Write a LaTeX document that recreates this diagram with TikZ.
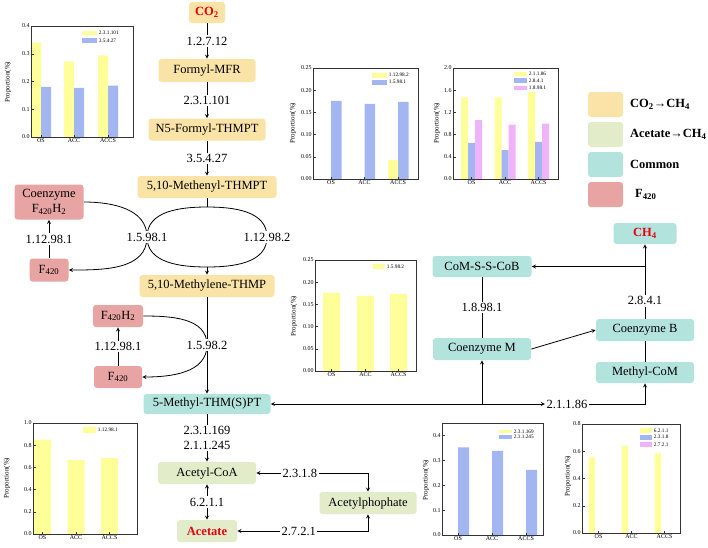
\documentclass[tikz,border=0pt]{standalone}
\usepackage{fontspec}
\setmainfont{Liberation Serif}
\usepackage{xcolor}
\usetikzlibrary{positioning}

\definecolor{boxco}{HTML}{FAE3A6}
\definecolor{boxac}{HTML}{E2ECC8}
\definecolor{boxcm}{HTML}{B2E4DD}
\definecolor{boxfz}{HTML}{E8A3A3}
\definecolor{baryel}{HTML}{FFFF99}
\definecolor{barblu}{HTML}{A3B6F2}
\definecolor{barpnk}{HTML}{EFB3FA}
\definecolor{txtred}{HTML}{E60012}
\newcommand{\sbs}[1]{\textsubscript{#1}}

\begin{document}
\begin{tikzpicture}[x=1pt,y=-1pt,line width=0.8pt,
    every node/.style={font=\fontsize{12.5}{15.5}\selectfont},
    box/.style={rounded corners=3pt,inner sep=0pt,minimum height=22pt},
    lbl/.style={fill=white,inner sep=1.5pt},
    legtxt/.style={font=\fontsize{12.5}{14}\selectfont\bfseries},
    chartline/.style={draw=black!80,line width=0.5pt},
    ticklab/.style={font=\fontsize{6}{7}\selectfont,inner sep=1pt},
    barkey/.style={font=\fontsize{5.3}{6}\selectfont,anchor=west,inner sep=0.5pt},
    ylab/.style={font=\fontsize{7}{8}\selectfont,rotate=90}]
  \useasboundingbox (0,0) rectangle (708,547);

  % CO2 branch
  \node[box,fill=boxco,minimum width=36pt,minimum height=21pt] (co2) at (207,12.5) {\textcolor{txtred}{\bfseries CO\sbs{2}}};
  \node[box,fill=boxco,minimum width=97pt,minimum height=23pt] (fmfr) at (207,70.5) {Formyl-MFR};
  \node[box,fill=boxco,minimum width=117pt] (n5f) at (207,129.5) {N5-Formyl-THMPT};
  \node[box,fill=boxco,minimum width=139pt] (meth) at (207,187) {5,10-Methenyl-THMPT};
  \node[box,fill=boxco,minimum width=135pt] (mlene) at (207,286) {5,10-Methylene-THMP};
  % F420
  \node[box,fill=boxfz,minimum width=69pt,minimum height=35pt,align=center] (cof) at (49,202) {Coenzyme\\F\sbs{420}H\sbs{2}};
  \node[box,fill=boxfz,minimum width=39pt,minimum height=23pt] (f420a) at (49,270) {F\sbs{420}};
  \node[box,fill=boxfz,minimum width=50pt] (f420h2) at (118,316) {F\sbs{420}H\sbs{2}};
  \node[box,fill=boxfz,minimum width=48pt] (f420b) at (118,377) {F\sbs{420}};
  % common
  \node[box,fill=boxcm,minimum width=127pt,minimum height=20pt] (mthm) at (207,404) {5-Methyl-THM(S)PT};
  \node[box,fill=boxcm,minimum width=63pt,minimum height=21pt] (ch4) at (645,233.5) {\textcolor{txtred}{\bfseries CH\sbs{4}}};
  \node[box,fill=boxcm,minimum width=99pt,minimum height=21pt] (cmsb) at (482,266.5) {CoM-S-S-CoB};
  \node[box,fill=boxcm,minimum width=98pt] (comm) at (482,349) {Coenzyme M};
  \node[box,fill=boxcm,minimum width=98pt] (cob) at (645,330) {Coenzyme B};
  \node[box,fill=boxcm,minimum width=98pt,minimum height=21pt] (mcom) at (645,372.5) {Methyl-CoM};
  % acetate branch
  \node[box,fill=boxac,minimum width=98pt] (acoa) at (207,473) {Acetyl-CoA};
  \node[box,fill=boxac,minimum width=60pt] (acet) at (207,531) {\textcolor{txtred}{\bfseries Acetate}};
  \node[box,fill=boxac,minimum width=97pt] (acp) at (368,503) {Acetylphophate};

  % main column
  \draw [->,>=stealth] (co2) -- node[lbl] {1.2.7.12} (fmfr);
  \draw [->,>=stealth] (fmfr) -- node[lbl] {2.3.1.101} (n5f);
  \draw [->,>=stealth] (n5f) -- node[lbl] {3.5.4.27} (meth);

  % methenyl -> methylene, coupled with F420
  \coordinate (xa) at (147,237);
  \coordinate (xb) at (267,237);
  \coordinate (etop) at (207,207);
  \coordinate (ebot) at (207,267);
  \draw (meth) -- (etop);
  \draw (xa) to[out=90,in=180] (etop) to[out=0,in=90] (xb) to[out=-90,in=0] (ebot) to[out=180,in=-90] (xa);
  \draw [->,>=stealth] (ebot) -- (mlene);
  \draw (cof.east) to[out=0,in=90] (xa);
  \draw [->,>=stealth] (xa) to[out=-90,in=0] (f420a.east);
  \node[lbl] (e1) at (xa) {1.5.98.1};
  \node[lbl] (e2) at (xb) {1.12.98.2};
  \draw [->,>=stealth] (f420a) -- node[lbl] {1.12.98.1} (cof);

  % methylene -> methyl
  \coordinate (xc) at (207,345);
  \draw [->,>=stealth] (mlene) -- (mthm);
  \draw (f420h2.east) to[out=0,in=90] (xc);
  \draw [->,>=stealth] (xc) to[out=-90,in=0] (f420b.east);
  \node[lbl] (e3) at (xc) {1.5.98.2};
  \draw [->,>=stealth] (f420b) -- node[lbl] {1.12.98.1} (f420h2);

  % acetate side
  \draw [->,>=stealth] (mthm) -- node[lbl,align=center] {2.3.1.169\\2.1.1.245} (acoa);
  \draw [<->,>=stealth] (acoa) -- node[lbl] {6.2.1.1} (acet);
  \draw [<->,>=stealth] (acoa.east) -- node[lbl,pos=0.39] {2.3.1.8} (acoa.east -| acp.north) -- (acp.north);
  \draw [<->,>=stealth] (acet.east) -- node[lbl,pos=0.47] {2.7.2.1} (acet.east -| acp.south) -- (acp.south);

  % methyl -> CH4
  \node[lbl] (e4) at (567,404) {2.1.1.86};
  \draw [<->,>=stealth] (mthm.east) -- (e4.west);
  \draw [->,>=stealth] (e4.east) -| (mcom.south);
  \draw [->,>=stealth] (mthm.east -| comm.south) -- (comm.south);
  \draw (mcom) -- (cob);
  \draw [->,>=stealth] (cob) -- node[lbl,pos=0.24] {2.8.4.1} (ch4);
  \draw [->,>=stealth] (ch4.south |- cmsb.east) -- (cmsb.east);
  \draw (cmsb) -- node[lbl] {1.8.98.1} (comm);
  \draw [->,>=stealth] (comm.east) -- (cob.west);

  % legend
  \node[box,fill=boxco,minimum width=35pt,minimum height=25pt] (sw1) at (605.5,104.5) {};
  \node[box,fill=boxac,minimum width=35pt,minimum height=25pt] (sw2) at (605.5,134.5) {};
  \node[box,fill=boxcm,minimum width=35pt,minimum height=25pt] (sw3) at (605.5,164.5) {};
  \node[box,fill=boxfz,minimum width=35pt,minimum height=25pt] (sw4) at (605.5,194.5) {};
  \node[legtxt,right=3pt of sw1] {CO\sbs{2}→CH\sbs{4}};
  \node[legtxt,right=3pt of sw2] {Acetate→CH\sbs{4}};
  \node[legtxt,right=3pt of sw3] {Common};
  \node[legtxt,right=8pt of sw4] {F\sbs{420}};

  % chart 2.3.1.101 / 3.5.4.27
  \begin{scope}[shift={(0,137)},y=277.5pt]
    \fill[baryel] (31,0) rectangle (41,.34) (64,0) rectangle (74,.272) (98,0) rectangle (108,.294);
    \fill[barblu] (41,0) rectangle (51,.181) (74,0) rectangle (84,.177) (108,0) rectangle (118,.185);
    \draw[chartline] (31,0) rectangle (133,.4);
    \foreach \v in {0.0,0.1,0.2,0.3,0.4}
      {\draw[chartline] (31,\v) -- ++(2.5pt,0pt); \node[ticklab,left] at (31,\v) {\v};}
    \foreach \x/\t in {41/OS,74/ACC,108/ACCS}
      {\draw[chartline] (\x,0) -- ++(0pt,2.5pt); \node[ticklab,below] at (\x,0) {\t};}
  \end{scope}
  \node[ylab] at (8,82) {Proportion(\%)};
  \fill[baryel] (82,30.5) rectangle (97,35);
  \fill[barblu] (82,38) rectangle (97,43);
  \node[barkey] at (98,33) {2.3.1.101};
  \node[barkey] at (98,40.5) {3.5.4.27};

  % chart 1.12.98.2 / 1.5.98.1
  \begin{scope}[shift={(0,179)},y=444pt]
    \fill[baryel] (387.5,0) rectangle (398,.042);
    \fill[barblu] (331,0) rectangle (341.5,.176) (364.5,0) rectangle (375,.169) (398,0) rectangle (408.5,.174);
    \draw[chartline] (313,0) rectangle (418,.25);
    \foreach \v in {0.00,0.05,0.10,0.15,0.20,0.25}
      {\draw[chartline] (313,\v) -- ++(2.5pt,0pt); \node[ticklab,left] at (313,\v) {\v};}
    \foreach \x/\t in {331/OS,364.5/ACC,398/ACCS}
      {\draw[chartline] (\x,0) -- ++(0pt,2.5pt); \node[ticklab,below] at (\x,0) {\t};}
  \end{scope}
  \node[ylab] at (293,123) {Proportion(\%)};
  \fill[baryel] (372,72.5) rectangle (387,77.5);
  \fill[barblu] (372,79.5) rectangle (387,84.5);
  \node[barkey] at (388,75) {1.12.98.2};
  \node[barkey] at (388,82) {1.5.98.1};

  % chart 2.1.1.86 / 2.8.4.1 / 1.8.98.1
  \begin{scope}[shift={(0,179)},y=55.5pt]
    \fill[baryel] (461,0) rectangle (468,1.47) (494.5,0) rectangle (501.5,1.47) (528,0) rectangle (535,1.57);
    \fill[barblu] (468,0) rectangle (475,.65) (501.5,0) rectangle (508.5,.52) (535,0) rectangle (542,.67);
    \fill[barpnk] (475,0) rectangle (482,1.06) (508.5,0) rectangle (515.5,.98) (542,0) rectangle (549,1.0);
    \draw[chartline] (453,0) rectangle (558,2);
    \foreach \v in {0.0,0.4,0.8,1.2,1.6,2.0}
      {\draw[chartline] (453,\v) -- ++(2.5pt,0pt); \node[ticklab,left] at (453,\v) {\v};}
    \foreach \x/\t in {471.5/OS,505/ACC,538.5/ACCS}
      {\draw[chartline] (\x,0) -- ++(0pt,2.5pt); \node[ticklab,below] at (\x,0) {\t};}
  \end{scope}
  \node[ylab] at (437,123) {Proportion(\%)};
  \fill[baryel] (514,71.5) rectangle (527,76);
  \fill[barblu] (514,78) rectangle (527,83);
  \fill[barpnk] (514,85.5) rectangle (527,90);
  \node[barkey] at (528,74) {2.1.1.86};
  \node[barkey] at (528,80.5) {2.8.4.1};
  \node[barkey] at (528,88) {1.8.98.1};

  % chart 1.5.98.2
  \begin{scope}[shift={(0,371)},y=444pt]
    \fill[baryel] (323,0) rectangle (340,.176) (357,0) rectangle (374,.169) (390,0) rectangle (407,.174);
    \draw[chartline] (315,0) rectangle (416,.25);
    \foreach \v in {0.00,0.05,0.10,0.15,0.20,0.25}
      {\draw[chartline] (315,\v) -- ++(2.5pt,0pt); \node[ticklab,left] at (315,\v) {\v};}
    \foreach \x/\t in {331.5/OS,365.5/ACC,398.5/ACCS}
      {\draw[chartline] (\x,0) -- ++(0pt,2.5pt); \node[ticklab,below] at (\x,0) {\t};}
  \end{scope}
  \node[ylab] at (294,316) {Proportion(\%)};
  \fill[baryel] (373,264) rectangle (385,269);
  \node[barkey] at (386,266.5) {1.5.98.2};

  % chart 1.12.98.1
  \begin{scope}[shift={(0,534)},y=111pt]
    \fill[baryel] (34,0) rectangle (51,.85) (67.5,0) rectangle (84.5,.665) (101,0) rectangle (118,.685);
    \draw[chartline] (33,0) rectangle (137,1);
    \foreach \v in {0.0,0.2,0.4,0.6,0.8,1.0}
      {\draw[chartline] (33,\v) -- ++(2.5pt,0pt); \node[ticklab,left] at (33,\v) {\v};}
    \foreach \x/\t in {42.5/OS,76/ACC,109.5/ACCS}
      {\draw[chartline] (\x,0) -- ++(0pt,2.5pt); \node[ticklab,below] at (\x,0) {\t};}
  \end{scope}
  \node[ylab] at (7,478) {Proportion(\%)};
  \fill[baryel] (83,427) rectangle (96,433);
  \node[barkey] at (97,430) {1.12.98.1};

  % chart 2.3.1.169 / 2.1.1.245
  \begin{scope}[shift={(0,535)},y=248.9pt]
    \fill[barblu] (458,0) rectangle (469,.352) (492,0) rectangle (503,.338) (526,0) rectangle (537,.262);
    \draw[chartline] (442,0) rectangle (543,.45);
    \foreach \v in {0.0,0.1,0.2,0.3,0.4}
      {\draw[chartline] (442,\v) -- ++(2.5pt,0pt); \node[ticklab,left] at (442,\v) {\v};}
    \foreach \x/\t in {458/OS,492/ACC,526/ACCS}
      {\draw[chartline] (\x,0) -- ++(0pt,2.5pt); \node[ticklab,below] at (\x,0) {\t};}
  \end{scope}
  \node[ylab] at (426,480) {Proportion(\%)};
  \fill[baryel] (499,429.5) rectangle (512,433);
  \fill[barblu] (499,434.5) rectangle (512,439);
  \node[barkey] at (513,431.5) {2.3.1.169};
  \node[barkey] at (513,436.5) {2.1.1.245};

  % chart 6.2.1.1 / 2.3.1.8 / 2.7.2.1
  \begin{scope}[shift={(0,533)},y=136.25pt]
    \fill[baryel] (588.5,0) rectangle (595.2,.555) (621.5,0) rectangle (628.2,.64) (654.5,0) rectangle (661.2,.585);
    \draw[chartline] (582,0) rectangle (680,.8);
    \foreach \v in {0.0,0.2,0.4,0.6,0.8}
      {\draw[chartline] (582,\v) -- ++(2.5pt,0pt); \node[ticklab,left] at (582,\v) {\v};}
    \foreach \x/\t in {598.5/OS,631.5/ACC,664.5/ACCS}
      {\draw[chartline] (\x,0) -- ++(0pt,2.5pt); \node[ticklab,below] at (\x,0) {\t};}
  \end{scope}
  \node[ylab] at (568,476) {Proportion(\%)};
  \fill[baryel] (640,428) rectangle (652,433);
  \fill[barblu] (640,435) rectangle (652,439.5);
  \fill[barpnk] (640,442) rectangle (652,447);
  \node[barkey] at (653,430.5) {6.2.1.1};
  \node[barkey] at (653,437) {2.3.1.8};
  \node[barkey] at (653,444.5) {2.7.2.1};
\end{tikzpicture}
\end{document}
